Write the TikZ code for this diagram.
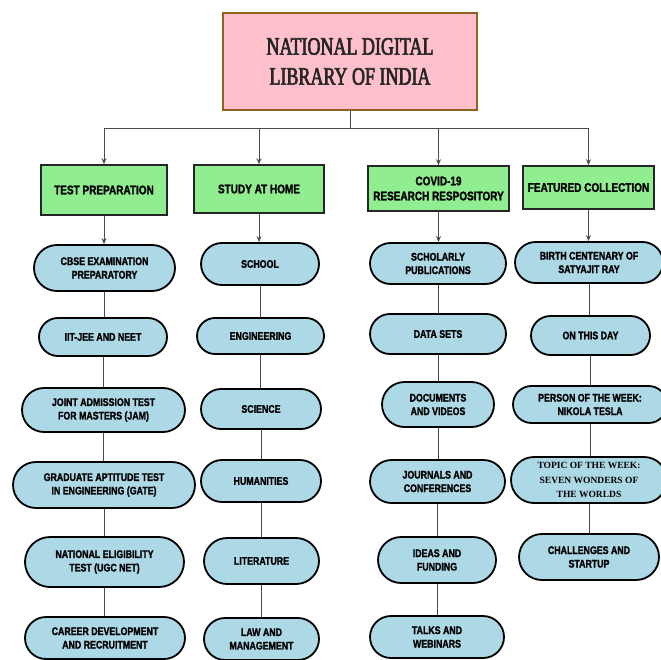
\documentclass[tikz,border=0pt]{standalone}
\usepackage{fontspec}
\usetikzlibrary{shapes.misc,arrows.meta}
\newfontfamily\pillfont[FakeStretch=0.8,BoldFeatures={FakeBold=1.5}]{Liberation Sans}
\newfontfamily\titlefont[FakeStretch=0.72,FakeBold=2.5]{Liberation Serif}
\newfontfamily\timesfont{Liberation Serif}
\definecolor{pillblue}{HTML}{ADD8E6}
\definecolor{hdrgreen}{HTML}{90EE90}
\definecolor{titlepink}{HTML}{FFC0CB}
\definecolor{titlebrown}{RGB}{140,100,30}
\tikzset{
  pill/.style={rounded rectangle, draw=black, line width=1.8pt, fill=pillblue,
    font={\pillfont\bfseries\fontsize{11}{13.5}\selectfont}, align=center, inner sep=2pt, text=black},
  hdr/.style={rectangle, draw=black!85, line width=1.6pt, fill=hdrgreen,
    font={\pillfont\bfseries\fontsize{12.5}{15}\selectfont}, align=center, inner sep=2pt, text=black},
  link/.style={draw=black!70, line width=1pt},
  arr/.style={link, -{Stealth[length=6pt,width=5pt]}}
}
\begin{document}
\begin{tikzpicture}[x=1pt,y=-1pt]
\useasboundingbox (0,0) rectangle (660,660);
% title
\node[draw=titlebrown, line width=2.5pt, fill=titlepink, minimum width=254pt, minimum height=97pt,
  font={\titlefont\fontsize{25}{30}\selectfont}, align=center, text=black!85] (title) at (350,61.5)
  {NATIONAL DIGITAL\\LIBRARY OF INDIA};
% headers
\node[hdr, minimum width=126pt, minimum height=50pt] (h1) at (104,190) {TEST PREPARATION};
\node[hdr, minimum width=130pt, minimum height=48pt] (h2) at (259,189) {STUDY AT HOME};
\node[hdr, minimum width=141pt, minimum height=45pt] (h3) at (438.5,188.5) {COVID-19\\RESEARCH RESPOSITORY};
\node[hdr, minimum width=131pt, minimum height=43pt] (h4) at (588.5,187.5) {FEATURED COLLECTION};
% column 1
\node[pill, minimum width=145pt, minimum height=46pt] (c1a) at (104.5,268) {CBSE EXAMINATION\\PREPARATORY};
\node[pill, minimum width=132pt, minimum height=38pt] (c1b) at (103,337) {IIT-JEE AND NEET};
\node[pill, minimum width=167pt, minimum height=44pt] (c1c) at (103.5,410) {JOINT ADMISSION TEST\\FOR MASTERS (JAM)};
\node[pill, minimum width=186pt, minimum height=46pt] (c1d) at (104,485) {GRADUATE APTITUDE TEST\\IN ENGINEERING (GATE)};
\node[pill, minimum width=163pt, minimum height=50pt] (c1e) at (104.5,562) {NATIONAL ELIGIBILITY\\TEST (UGC NET)};
\node[pill, minimum width=164pt, minimum height=42pt] (c1f) at (105,638) {CAREER DEVELOPMENT\\AND RECRUITMENT};
% column 2
\node[pill, minimum width=122pt, minimum height=42pt] (c2a) at (260,264) {SCHOOL};
\node[pill, minimum width=131pt, minimum height=36pt] (c2b) at (260.5,336) {ENGINEERING};
\node[pill, minimum width=124pt, minimum height=40pt] (c2c) at (261,409) {SCIENCE};
\node[pill, minimum width=124pt, minimum height=42pt] (c2d) at (261,481) {HUMANITIES};
\node[pill, minimum width=119pt, minimum height=46pt] (c2e) at (261.5,561) {LITERATURE};
\node[pill, minimum width=119pt, minimum height=42pt] (c2f) at (261.5,639) {LAW AND\\MANAGEMENT};
% column 3
\node[pill, minimum width=140pt, minimum height=41pt] (c3a) at (438,263.5) {SCHOLARLY\\PUBLICATIONS};
\node[pill, minimum width=140pt, minimum height=40pt] (c3b) at (438,334) {DATA SETS};
\node[pill, minimum width=116pt, minimum height=45pt] (c3c) at (438,404.5) {DOCUMENTS\\AND VIDEOS};
\node[pill, minimum width=139pt, minimum height=43pt] (c3d) at (437.5,481.5) {JOURNALS AND\\CONFERENCES};
\node[pill, minimum width=122pt, minimum height=46pt] (c3e) at (437,560) {IDEAS AND\\FUNDING};
\node[pill, minimum width=138pt, minimum height=42pt] (c3f) at (437,637) {TALKS AND\\WEBINARS};
% column 4
\node[pill, minimum width=152pt, minimum height=41pt] (c4a) at (589,262.5) {BIRTH CENTENARY OF\\SATYAJIT RAY};
\node[pill, minimum width=123pt, minimum height=39pt] (c4b) at (590.5,335.5) {ON THIS DAY};
\node[pill, minimum width=158pt, minimum height=37pt] (c4c) at (590,404.5) {PERSON OF THE WEEK:\\NIKOLA TESLA};
\node[pill, minimum width=158pt, minimum height=46pt, inner sep=1pt,
  font={\timesfont\bfseries\fontsize{9.5}{14.5}\selectfont}] (c4d) at (589,480) {TOPIC OF THE WEEK:\\SEVEN WONDERS OF\\THE WORLDS};
\node[pill, minimum width=144pt, minimum height=46pt] (c4e) at (589,557) {CHALLENGES AND\\STARTUP};
% bus connectors
\coordinate (bus) at (350,129);
\draw[link] (title.south) -- (bus);
\draw[link] (h1.north |- bus) -- (h4.north |- bus);
\foreach \h in {h1,h2,h3,h4} {\draw[arr] (\h.north |- bus) -- (\h.north);}
% header to first pill
\draw[arr] (h1.south) -- (h1.south |- c1a.north);
\draw[arr] (h2.south) -- (h2.south |- c2a.north);
\draw[arr] (h3.south) -- (h3.south |- c3a.north);
\draw[arr] (h4.south) -- (h4.south |- c4a.north);
% chains
\foreach \a/\b in {c1a/c1b,c1b/c1c,c1c/c1d,c1d/c1e,c1e/c1f,
                   c2a/c2b,c2b/c2c,c2c/c2d,c2d/c2e,c2e/c2f,
                   c3a/c3b,c3b/c3c,c3c/c3d,c3d/c3e,c3e/c3f,
                   c4a/c4b,c4b/c4c,c4c/c4d,c4d/c4e}
  {\draw[link] (\a.south) -- (\a.south |- \b.north);}
\end{tikzpicture}
\end{document}
